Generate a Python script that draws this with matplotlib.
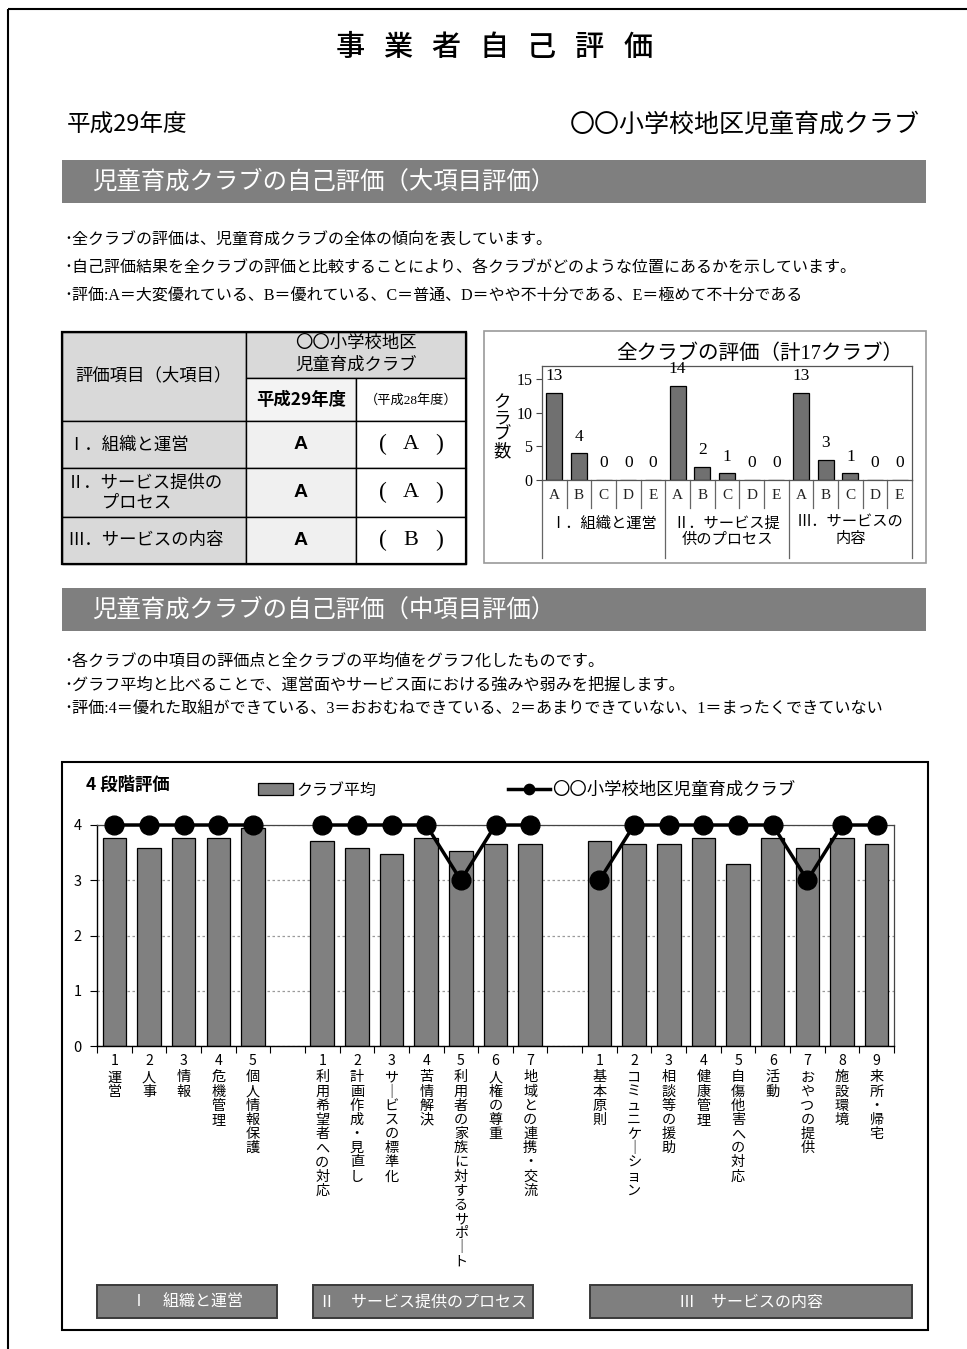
import matplotlib
matplotlib.use("Agg")
import matplotlib.pyplot as plt
from matplotlib.patches import Rectangle
from matplotlib.transforms import blended_transform_factory
import numpy as np

W, H = 967, 1349
JP = ["Noto Sans CJK JP", "DejaVu Sans"]
SERIF = ["Liberation Serif", "Noto Sans CJK JP"]
plt.rcParams["font.family"] = JP

# ---------------- data ----------------
page_title = "事業者自己評価"
fiscal_year = "平成29年度"
club_name = "〇〇小学校地区児童育成クラブ"

section1 = "児童育成クラブの自己評価（大項目評価）"
notes1 = [
    "･全クラブの評価は、児童育成クラブの全体の傾向を表しています。",
    "･自己評価結果を全クラブの評価と比較することにより、各クラブがどのような位置にあるかを示しています。",
    "･評価:A＝大変優れている、B＝優れている、C＝普通、D＝やや不十分である、E＝極めて不十分である",
]
section2 = "児童育成クラブの自己評価（中項目評価）"
notes2 = [
    "･各クラブの中項目の評価点と全クラブの平均値をグラフ化したものです。",
    "･グラフ平均と比べることで、運営面やサービス面における強みや弱みを把握します。",
    "･評価:4＝優れた取組ができている、3＝おおむねできている、2＝あまりできていない、1＝まったくできていない",
]

# summary table
major_items = ["Ⅰ．組織と運営", "Ⅱ．サービス提供の\n\u3000\u3000プロセス", "Ⅲ．サービスの内容"]
grade_current = ["A", "A", "A"]
grade_previous = ["A", "A", "B"]
year_current = "平成29年度"
year_previous = "（平成28年度）"

# distribution of grades over all clubs
grade_letters = ["A", "B", "C", "D", "E"]
dist_groups = ["Ⅰ．組織と運営", "Ⅱ．サービス提\n供のプロセス", "Ⅲ．サービスの\n内容"]
counts_org = [13, 4, 0, 0, 0]
counts_process = [14, 2, 1, 0, 0]
counts_content = [13, 3, 1, 0, 0]
dist_title = "全クラブの評価（計17クラブ）"

# mid-level items
items_org = ["運営", "人事", "情報", "危機管理", "個人情報保護"]
items_process = ["利用希望者への対応", "計画作成・見直し", "サービスの標準化", "苦情解決",
                 "利用者の家族に対するサポート", "人権の尊重", "地域との連携・交流"]
items_content = ["基本原則", "コミュニケーション", "相談等の援助", "健康管理", "自傷他害への対応",
                 "活動", "おやつの提供", "施設環境", "来所・帰宅"]
avg_org = [3.76, 3.59, 3.76, 3.76, 3.94]
avg_process = [3.71, 3.59, 3.47, 3.76, 3.53, 3.65, 3.65]
avg_content = [3.71, 3.65, 3.65, 3.76, 3.29, 3.76, 3.59, 3.76, 3.65]
club_org = [4, 4, 4, 4, 4]
club_process = [4, 4, 4, 4, 3, 4, 4]
club_content = [3, 4, 4, 4, 4, 4, 3, 4, 4]
group_titles = ["Ⅰ\u3000組織と運営", "Ⅱ\u3000サービス提供のプロセス", "Ⅲ\u3000サービスの内容"]
series_avg = "クラブ平均"
scale_label = "4 段階評価"

GRAY = "#7f7f7f"


def px_rect(l, t, r, b):
    return [l / W, 1 - b / H, (r - l) / W, (b - t) / H]


fig = plt.figure(figsize=(W / 100, H / 100), dpi=100)
page = fig.add_axes([0, 0, 1, 1])
page.set_xlim(0, W)
page.set_ylim(H, 0)
page.axis("off")

# page frame
page.add_patch(Rectangle((8, 9), 1200, 1600, fc="none", ec="black", lw=1.5))

# title, spaced characters
for i, ch in enumerate(page_title):
    page.text(350 + 48 * i, 48, ch, fontsize=21, weight="medium", ha="center", va="center")

page.text(67, 125, fiscal_year, fontsize=17, ha="left", va="center")
page.text(920, 125, club_name, fontsize=18, ha="right", va="center")


def section_bar(top, label):
    page.add_patch(Rectangle((62, top), 864, 43, fc=GRAY, ec="none"))
    page.text(92, top + 22, label, fontsize=17.6, color="white", ha="left", va="center")


section_bar(160, section1)
for i, line in enumerate(notes1):
    page.text(64, 240 + 28 * i, line, fontsize=11.5, family=SERIF, ha="left", va="center")

# ---------------- summary table ----------------
cx = [62, 246, 356, 466]
ry = [332, 378, 421, 468, 517, 564]
LIGHT = "#d9d9d9"
page.add_patch(Rectangle((cx[0], ry[0]), cx[1] - cx[0], ry[2] - ry[0], fc=LIGHT, ec="black", lw=1))
page.add_patch(Rectangle((cx[1], ry[0]), cx[3] - cx[1], ry[1] - ry[0], fc=LIGHT, ec="black", lw=1))
page.add_patch(Rectangle((cx[1], ry[1]), cx[2] - cx[1], ry[2] - ry[1], fc="#f3f3f3", ec="black", lw=1))
page.add_patch(Rectangle((cx[2], ry[1]), cx[3] - cx[2], ry[2] - ry[1], fc="white", ec="black", lw=1))
page.text((cx[0] + cx[1]) / 2, 375, "評価項目（大項目）", fontsize=12.5, ha="center", va="center")
page.text((cx[1] + cx[3]) / 2, 343, club_name[:7], fontsize=12.5, ha="center", va="center")
page.text((cx[1] + cx[3]) / 2, 365, club_name[7:], fontsize=12.5, ha="center", va="center")
page.text((cx[1] + cx[2]) / 2, 400, year_current, fontsize=12.5, weight="bold", ha="center", va="center")
page.text((cx[2] + cx[3]) / 2, 400, year_previous, fontsize=9.5, family=SERIF, ha="center", va="center")
for i, (item, g_now, g_prev) in enumerate(zip(major_items, grade_current, grade_previous)):
    top, bot = ry[2 + i], ry[3 + i]
    mid = (top + bot) / 2
    page.add_patch(Rectangle((cx[0], top), cx[1] - cx[0], bot - top, fc=LIGHT, ec="black", lw=1))
    page.add_patch(Rectangle((cx[1], top), cx[2] - cx[1], bot - top, fc="#f0f0f0", ec="black", lw=1))
    page.add_patch(Rectangle((cx[2], top), cx[3] - cx[2], bot - top, fc="white", ec="black", lw=1))
    lines = item.split("\n")
    for k, ln in enumerate(lines):
        yy = mid + (k - (len(lines) - 1) / 2) * 20
        page.text(67, yy, ln, fontsize=12.5, ha="left", va="center")
    page.text((cx[1] + cx[2]) / 2, mid, g_now, fontsize=14, weight="bold",
              family=["Liberation Sans", "DejaVu Sans"], ha="center", va="center")
    xm = (cx[2] + cx[3]) / 2
    page.text(xm - 28, mid, "(", fontsize=17, family=SERIF, ha="center", va="center")
    page.text(xm, mid, g_prev, fontsize=16, family=SERIF, ha="center", va="center")
    page.text(xm + 28, mid, ")", fontsize=17, family=SERIF, ha="center", va="center")
page.add_patch(Rectangle((cx[0], ry[0]), cx[3] - cx[0], ry[-1] - ry[0], fc="none", ec="black", lw=1.6))

# ---------------- grade distribution chart ----------------
page.add_patch(Rectangle((484, 331), 442, 232, fc="none", ec="#999999", lw=1.2))
page.text(760, 354, dist_title, fontsize=14.8, family=SERIF, ha="center", va="center")
page.text(502, 428, "ク\nラ\nブ\n数", fontsize=12.5, family=SERIF, ha="center", va="center",
          linespacing=1.02)

ax1 = fig.add_axes(px_rect(542, 366, 912, 480))
ax1.set_facecolor("none")
counts = counts_org + counts_process + counts_content
xs = np.arange(len(counts))
ax1.bar(xs, counts, width=0.66, color="#707070", edgecolor="black", lw=0.9)
ax1.set_xlim(-0.5, len(counts) - 0.5)
ax1.set_ylim(0, 17)
ax1.set_yticks([0, 5, 10, 15])
ax1.set_xticks([])
ax1.tick_params(axis="y", direction="out", length=4, labelsize=11.5, pad=3, color="#444")
for lab in ax1.get_yticklabels():
    lab.set_family(SERIF)
for sp in ax1.spines.values():
    sp.set_color("#555555")
    sp.set_linewidth(0.9)
for xi, c in zip(xs, counts):
    ax1.annotate(str(c), (xi, c), xytext=(0, 12), textcoords="offset points",
                 ha="center", va="center", fontsize=12.5, family=SERIF, annotation_clip=False)

tr1 = blended_transform_factory(ax1.transData, ax1.transAxes)
n_letters = len(grade_letters)
for b in np.arange(-0.5, len(counts), 1.0):
    edge = int(round(b + 0.5)) % n_letters == 0
    ax1.plot([b, b], [0, -0.684 if edge else -0.245], transform=tr1, color="#666666",
             lw=0.9, clip_on=False)
for xi in xs:
    ax1.text(xi, -0.14, grade_letters[xi % n_letters], transform=tr1, ha="center", va="center",
             fontsize=11, family=SERIF, color="#222")
for gi, gname in enumerate(dist_groups):
    gx = gi * n_letters + (n_letters - 1) / 2
    ax1.text(gx, -0.32, gname, transform=tr1, ha="center", va="top", fontsize=11,
             family=SERIF, linespacing=1.2, multialignment="center")

# ---------------- mid-level item chart ----------------
section_bar(588, section2)
for i, line in enumerate(notes2):
    page.text(64, 662 + 23.5 * i, line, fontsize=11.6, family=SERIF, ha="left", va="center")

page.add_patch(Rectangle((62, 762), 866, 568, fc="none", ec="black", lw=1.5))
page.text(86, 785, scale_label, fontsize=12.5, weight="bold", ha="left", va="center")

ax2 = fig.add_axes(px_rect(97, 825, 894, 1046))
ax2.set_facecolor("none")

groups = [(items_org, avg_org, club_org), (items_process, avg_process, club_process),
          (items_content, avg_content, club_content)]
positions, labels, avgs = [], [], []
n_slots = sum(len(g[0]) for g in groups) + len(groups) - 1
club_line = np.full(n_slots, np.nan)
start = 0
for names, av, cl in groups:
    pos = start + np.arange(len(names))
    positions.extend(pos)
    avgs.extend(av)
    club_line[pos] = cl
    for k, nm in enumerate(names):
        labels.append([str(k + 1)] + list(nm.replace("ー", "｜")))
    start += len(names) + 1

ax2.yaxis.grid(True, linestyle=(0, (2, 2)), color="#9a9a9a", lw=0.9)
ax2.set_axisbelow(True)
bars = ax2.bar(positions, avgs, width=0.68, color="#808080", edgecolor="black", lw=0.9, zorder=2)
line, = ax2.plot(np.arange(n_slots), club_line, color="black", lw=2.5, marker="o", ms=13.5,
                 zorder=5, clip_on=False)
ax2.set_xlim(-0.5, n_slots - 0.5)
ax2.set_ylim(0, 4)
ax2.set_yticks([0, 1, 2, 3, 4])
ax2.set_xticks(np.arange(-0.5, n_slots, 1.0))
ax2.tick_params(axis="x", length=5, direction="out", labelbottom=False)
ax2.tick_params(axis="y", length=5, direction="out", labelsize=10.5, pad=6)
for side in ("left", "bottom"):
    ax2.spines[side].set_color("black")
    ax2.spines[side].set_linewidth(1.0)
for side in ("top", "right"):
    ax2.spines[side].set_color("#444444")
    ax2.spines[side].set_linewidth(0.9)

# item labels written top-to-bottom, one character per row
for p, chars in zip(positions, labels):
    for j, ch in enumerate(chars):
        off = 11.0 + (0 if j == 0 else 1.4 + 10.2 * j)
        ax2.annotate(ch, xy=(p, 0), xycoords=("data", "axes fraction"), xytext=(0, -off),
                     textcoords="offset points", ha="center", va="center", fontsize=10.2,
                     annotation_clip=False)

fig.legend([bars], [series_avg], loc="center left", bbox_to_anchor=(258 / W, 1 - 790 / H),
           frameon=False, fontsize=11.5, handlelength=2.2, handleheight=0.8, handletextpad=0.2,
           borderpad=0, borderaxespad=0)
fig.legend([line], [club_name], loc="center left", bbox_to_anchor=(508 / W, 1 - 790 / H),
           frameon=False, fontsize=12.5, handlelength=2.4, handletextpad=0.15, markerscale=0.55,
           borderpad=0, borderaxespad=0)

# group name boxes under the item labels
box_spans = [(97, 277), (313, 533), (590, 912)]
for (l, r), title in zip(box_spans, group_titles):
    page.add_patch(Rectangle((l, 1285), r - l, 33, fc=GRAY, ec="#3a3a3a", lw=1.4))
    page.text((l + r) / 2, 1302, title, fontsize=11.5, color="white", ha="center", va="center")

fig.savefig("out.png", dpi=100, facecolor="white")
